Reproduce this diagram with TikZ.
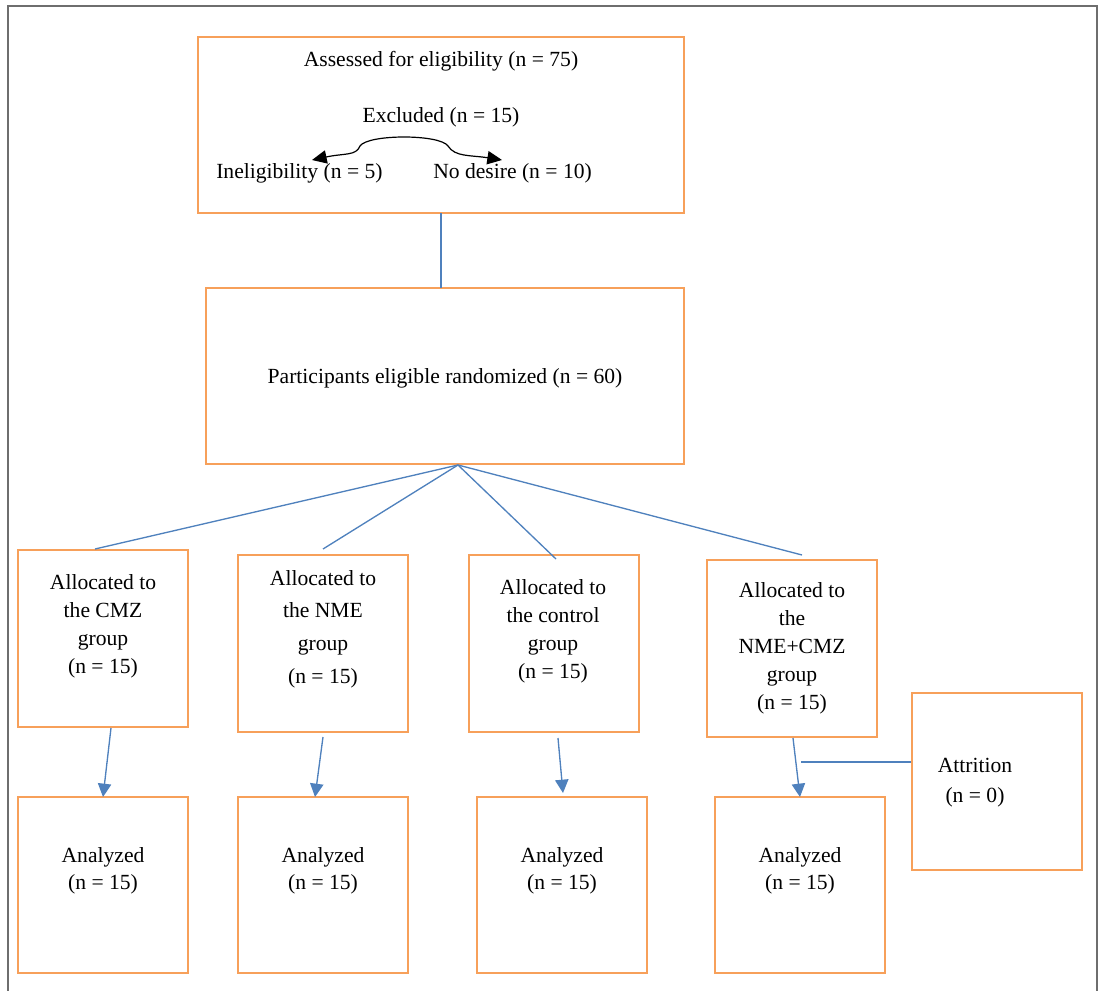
\documentclass[tikz,border=0pt]{standalone}
\usepackage{fontspec}
\setmainfont{Liberation Serif}
\usetikzlibrary{arrows.meta}
\definecolor{boxorange}{RGB}{247,160,90}
\definecolor{lineblue}{RGB}{79,129,189}
\definecolor{framegray}{RGB}{110,110,110}
\tikzset{
  box/.style={draw=boxorange, line width=1.2pt, fill=none, inner sep=0pt},
  txt/.style={font=\fontsize{16.2}{21}\selectfont, align=center, inner sep=0pt, text=black},
  link/.style={draw=lineblue, line width=1pt},
  flow/.style={draw=lineblue, line width=1pt, -{Triangle[length=10pt,width=10pt]}, fill=lineblue},
}
\newcommand{\pbox}[5]{\node[box, minimum width={0.75pt*(#4-#2)}, minimum height={0.75pt*(#5-#3)}] (#1) at ({(#2+#4)/2},{(#3+#5)/2}) {};}
\begin{document}
\begin{tikzpicture}[x=0.75pt,y=-0.75pt]
\useasboundingbox (0,0) rectangle (1099,991);
% frame
\draw[framegray, line width=1.6pt] (8,991) -- (8,6) -- (1097,6) -- (1097,991);

% top box
\pbox{top}{198}{37}{684}{213}
\node[txt] (assessed) at (441,61) {Assessed for eligibility (n = 75)};
\node[txt] (excluded) at (441,117) {Excluded (n = 15)};
\node[txt, anchor=west] (inelig) at (216,173) {Ineligibility (n = 5)};
\node[txt, anchor=west] (nodesire) at (433,173) {No desire (n = 10)};
\coordinate (exL) at (312,160);
\coordinate (exR) at (502,160);
\draw[black, line width=0.9pt, {Triangle[length=11pt,width=10pt]}-{Triangle[length=11pt,width=10pt]}]
  (exL) .. controls (345,153) and (356,156) .. (360,146)
        .. controls (368,134) and (440,134) .. (448,146)
        .. controls (455,157) and (470,155) .. (exR);

% middle box
\pbox{mid}{206}{288}{684}{464}
\node[txt] (part) at (445,378) {Participants eligible randomized (n = 60)};
\coordinate (topbot) at (441,213);
\coordinate (midtop) at (441,288);
\draw[link] (topbot) -- (midtop);

% allocation boxes
\pbox{a1}{18}{550}{188}{727}
\pbox{a2}{238}{555}{408}{732}
\pbox{a3}{469}{555}{639}{732}
\pbox{a4}{707}{560}{877}{737}
\node[txt] (a1t) at (103,626) {Allocated to\\the CMZ\\group\\(n = 15)};
\node[txt, font=\fontsize{16.2}{24.5}\selectfont] (a2t) at (323,629) {Allocated to\\the NME\\group\\(n = 15)};
\node[txt] (a3t) at (553,631) {Allocated to\\the control\\group\\(n = 15)};
\node[txt] (a4t) at (792,648) {Allocated to\\the\\NME+CMZ\\group\\(n = 15)};

% fan lines
\coordinate (fan) at (458,465);
\coordinate (f1) at (95,549);
\coordinate (f2) at (323,549);
\coordinate (f3) at (556,559);
\coordinate (f4) at (802,555);
\draw[link] (fan) -- (f1);
\draw[link] (fan) -- (f2);
\draw[link] (fan) -- (f3);
\draw[link] (fan) -- (f4);

% analyzed boxes
\pbox{b1}{18}{797}{188}{973}
\pbox{b2}{238}{797}{408}{973}
\pbox{b3}{477}{797}{647}{973}
\pbox{b4}{715}{797}{885}{973}
\node[txt, font=\fontsize{16.2}{20.5}\selectfont] (b1t) at (103,871) {Analyzed\\(n = 15)};
\node[txt, font=\fontsize{16.2}{20.5}\selectfont] (b2t) at (323,871) {Analyzed\\(n = 15)};
\node[txt, font=\fontsize{16.2}{20.5}\selectfont] (b3t) at (562,871) {Analyzed\\(n = 15)};
\node[txt, font=\fontsize{16.2}{20.5}\selectfont] (b4t) at (800,871) {Analyzed\\(n = 15)};

% attrition
\pbox{att}{912}{693}{1082}{870}
\node[txt, font=\fontsize{16.2}{22.5}\selectfont] (attt) at (975,783) {Attrition\\(n = 0)};

% arrows down
\coordinate (s1) at (111,728);
\coordinate (s2) at (323,737);
\coordinate (s3) at (558,738);
\coordinate (s4) at (793,738);
\coordinate (e1) at (103,797);
\coordinate (e2) at (315,797);
\coordinate (e3) at (563,793);
\coordinate (e4) at (800,797);
\draw[flow] (s1) -- (e1);
\draw[flow] (s2) -- (e2);
\draw[flow] (s3) -- (e3);
\draw[flow] (s4) -- (e4);

% attrition link
\coordinate (attl) at (801,762);
\draw[link] (attl) -- (att.west |- attl);
\end{tikzpicture}
\end{document}
